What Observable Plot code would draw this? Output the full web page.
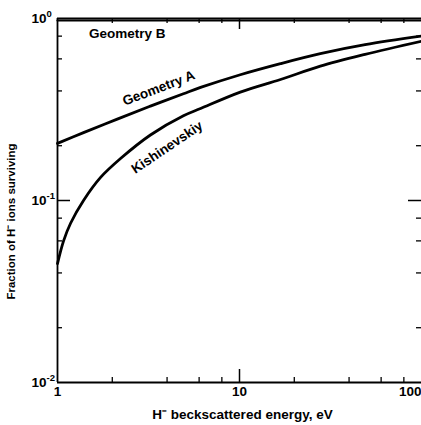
<!DOCTYPE html>
<html>
<head>
<meta charset="utf-8">
<script src="https://cdn.jsdelivr.net/npm/d3@7"></script>
<script src="https://cdn.jsdelivr.net/npm/@observablehq/plot@0.6"></script>
<style>
  html, body { margin: 0; padding: 0; background: #fff; }
  svg { display: block; }
</style>
</head>
<body>
<div id="chart"></div>
<script>
// ---- data ----
const geomAEnergy   = [1, 1.39, 2.13, 3.24, 4.92, 6.11, 10.1, 16.8, 27.8, 49, 100];
const geomAFraction = [0.206, 0.236, 0.280, 0.330, 0.386, 0.418, 0.491, 0.565, 0.641, 0.718, 0.80];

const kishEnergy   = [1, 1.08, 1.18, 1.39, 1.72, 2.22, 3.24, 4.92, 6.11, 10.1, 16.8, 27.8, 49, 100];
const kishFraction = [0.045, 0.060, 0.075, 0.100, 0.1335, 0.170, 0.229, 0.292, 0.320, 0.394, 0.462, 0.547, 0.635, 0.75];

const geomBEnergy   = [1, 10, 100];
const geomBFraction = [0.975, 0.975, 0.975];

const curveNames     = ["Geometry B", "Geometry A", "Kishinevskiy"];
const labelEnergy    = [2.42, 3.6, 4.0];
const labelFraction  = [0.827, 0.414, 0.196];

const xMinorTicks = [2, 4, 6, 8, 20, 40, 60, 80];
const xMajorTicks = [10];
const yMinorTicks = [0.02, 0.04, 0.06, 0.08, 0.2, 0.4, 0.6, 0.8];
const yMajorTicks = [0.1];

const xTickValues = [1, 10, 100];
const xTickLabels = ["1", "10", "100"];
const yTickValues = [1, 0.1, 0.01];
const yTickBase = ["10", "10", "10"];
const yTickExponents = ["0", "-1", "-2"];

const xTitle = "H\u207B beckscattered energy, eV";
const yTitle = "Fraction of H\u207B ions surviving";

// ---- build ----
const W = 421, H = 425;
const mL = 57, mR = 0, mT = 18, mB = 43;
const pw = W - mL - mR, ph = H - mT - mB;
const font = "Liberation Sans, Arial, Helvetica, sans-serif";

const toRows = (xs, ys) => xs.map((x, i) => ({x, y: ys[i]}));
const geomA = toRows(geomAEnergy, geomAFraction);
const kish = toRows(kishEnergy, kishFraction);
const geomB = toRows(geomBEnergy, geomBFraction);
const labels = curveNames.map((n, i) => ({name: n, x: labelEnergy[i], y: labelFraction[i]}));
const xLab = xTickValues.map((v, i) => ({v, t: xTickLabels[i]}));
const yLab = yTickValues.map((v, i) => ({v, b: yTickBase[i], e: yTickExponents[i]}));

const txt = {fill: "black", fontFamily: font, fontWeight: "bold"};

const chart = Plot.plot({
  width: W, height: H,
  marginLeft: mL, marginRight: mR, marginTop: mT, marginBottom: mB,
  style: {fontFamily: font, background: "white", overflow: "visible"},
  x: {type: "log", domain: [1, 100], axis: null},
  y: {type: "log", domain: [0.01, 1], axis: null},
  marks: [
    // axis lines
    Plot.ruleX([1], {stroke: "black", strokeWidth: 1.8}),
    Plot.ruleY([0.01], {stroke: "black", strokeWidth: 1.8}),
    Plot.ruleY([1], {stroke: "black", strokeWidth: 2}),
    // inward ticks: left / right
    Plot.tickY(yMinorTicks, {y: d => d, insetRight: pw - 5, stroke: "black", strokeWidth: 1.3}),
    Plot.tickY(yMinorTicks, {y: d => d, insetLeft: pw - 5, stroke: "black", strokeWidth: 1.3}),
    Plot.tickY(yMajorTicks, {y: d => d, insetRight: pw - 13, stroke: "black", strokeWidth: 1.5}),
    Plot.tickY(yMajorTicks, {y: d => d, insetLeft: pw - 13, stroke: "black", strokeWidth: 1.5}),
    // inward ticks: bottom / top
    Plot.tickX(xMinorTicks, {x: d => d, insetTop: ph - 5, stroke: "black", strokeWidth: 1.3}),
    Plot.tickX(xMinorTicks, {x: d => d, insetBottom: ph - 5, stroke: "black", strokeWidth: 1.3}),
    Plot.tickX(xMajorTicks, {x: d => d, insetTop: ph - 13, stroke: "black", strokeWidth: 1.5}),
    Plot.tickX(xMajorTicks, {x: d => d, insetBottom: ph - 11, stroke: "black", strokeWidth: 1.5}),
    // curves
    Plot.line(geomB, {x: "x", y: "y", stroke: "black", strokeWidth: 2.2}),
    Plot.line(geomA, {x: "x", y: "y", stroke: "black", strokeWidth: 2.8, curve: "catmull-rom"}),
    Plot.line(kish, {x: "x", y: "y", stroke: "black", strokeWidth: 2.8, curve: "catmull-rom"}),
    // curve labels
    Plot.text(labels.slice(0, 1), {x: "x", y: "y", text: "name", fontSize: 13.5, ...txt}),
    Plot.text(labels.slice(1, 2), {x: "x", y: "y", text: "name", fontSize: 13.5, rotate: -21, ...txt}),
    Plot.text(labels.slice(2, 3), {x: "x", y: "y", text: "name", fontSize: 13.5, rotate: -34, ...txt}),
    // y tick labels: base "10" and superscript exponent
    Plot.text(yLab, {y: "v", text: "b", frameAnchor: "left", dx: -11, textAnchor: "end", fontSize: 13.5, ...txt}),
    Plot.text(yLab, {y: "v", text: "e", frameAnchor: "left", dx: -11, dy: -5, textAnchor: "start", fontSize: 9.5, ...txt}),
    // x tick labels
    Plot.text(xLab.slice(0, 2), {x: "v", text: "t", frameAnchor: "bottom", dy: 13, fontSize: 13.5, ...txt}),
    Plot.text(xLab.slice(2), {x: "v", text: "t", frameAnchor: "bottom", dy: 13, textAnchor: "end", fontSize: 13.5, ...txt}),
    // axis titles
    Plot.text([xTitle], {text: d => d, frameAnchor: "bottom", textAnchor: "middle", dx: 3, dy: 36, fontSize: 13.5, ...txt}),
    Plot.text([yTitle], {text: d => d, frameAnchor: "left", textAnchor: "middle", dx: -46, dy: 21, rotate: -90, fontSize: 11.5, ...txt})
  ]
});
document.getElementById("chart").appendChild(chart);
</script>
</body>
</html>
